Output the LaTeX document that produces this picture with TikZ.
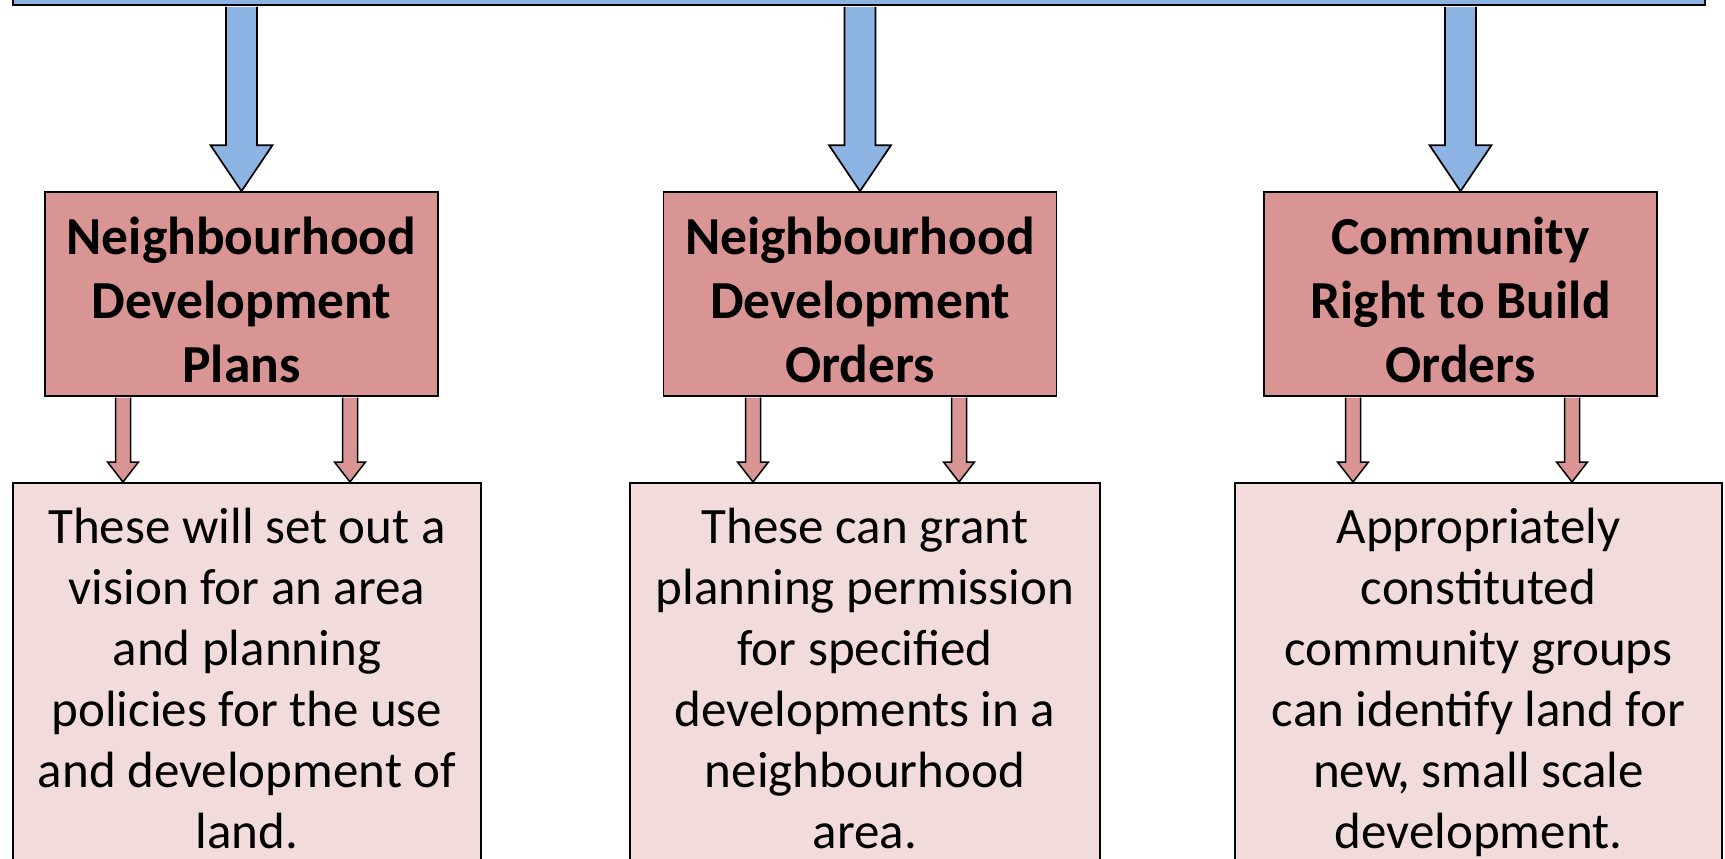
\documentclass[tikz,border=0pt]{standalone}
\usepackage{fontspec}
\setmainfont{Carlito}
\usetikzlibrary{calc}
\definecolor{barblue}{HTML}{8DB3E2}
\definecolor{boxred}{HTML}{D99594}
\definecolor{boxpink}{HTML}{F2DCDB}
\begin{document}
\begin{tikzpicture}[x=1pt,y=-1pt,
 redbox/.style={draw=black, line width=1.6pt, fill=boxred, minimum width=393pt, minimum height=204pt, inner sep=0pt, align=center, font=\fontsize{53.5}{64}\selectfont\bfseries},
 pinkbox/.style={draw=black, line width=1.6pt, fill=boxpink, minimum height=440pt, anchor=north, inner sep=0pt},
 bodytext/.style={anchor=north, inner sep=0pt, align=center, font=\fontsize{51}{61}\selectfont},
 bluearrow/.style={draw=black, line width=1.7pt, fill=barblue, line join=miter},
 redarrow/.style={draw=black, line width=1.5pt, fill=boxred, line join=miter},
]
\useasboundingbox (0,0) rectangle (1725,859);
\clip (0,0) rectangle (1725,859);
\fill[white] (0,0) rectangle (1725,859);

\node[draw=black, line width=1.7pt, fill=barblue, minimum width=1692pt, minimum height=80pt, anchor=south west, inner sep=0pt] (bar) at (12,6) {};

\node[redbox] (r1) at (241.5,294) {\rule{0pt}{50pt}Neighbourhood\\Development\\Plans};
\node[redbox] (r2) at (860,294) {\rule{0pt}{50pt}Neighbourhood\\Development\\Orders};
\node[redbox] (r3) at (1460.5,294) {\rule{0pt}{50pt}Community\\Right to Build\\Orders};

\node[pinkbox, minimum width=468pt] (d1) at (247,482) {};
\node[pinkbox, minimum width=470pt] (d2) at (865,482) {};
\node[pinkbox, minimum width=487pt] (d3) at (1478.5,482) {};

\node[bodytext] (t1) at ($(d1.north)+(0,20)$) {\rule{0pt}{41pt}These will set out a\\vision for an area\\and planning\\policies for the use\\and development of\\land.};
\node[bodytext] (t2) at ($(d2.north)+(0,20)$) {\rule{0pt}{41pt}These can grant\\planning permission\\for specified\\developments in a\\neighbourhood\\area.};
\node[bodytext] (t3) at ($(d3.north)+(0,20)$) {\rule{0pt}{41pt}Appropriately\\constituted\\community groups\\can identify land for\\new, small scale\\development.};

\foreach \b in {r1,r2,r3} {
 \draw[bluearrow] ($(bar.south -| \b.north)+(-15.5,0.85)$) -- ($(\b.north)+(-15.5,-46)$) -- ($(\b.north)+(-31,-46)$) -- (\b.north) -- ($(\b.north)+(31,-46)$) -- ($(\b.north)+(15.5,-46)$) -- ($(bar.south -| \b.north)+(15.5,0.85)$);
}

\foreach \x/\r/\d in {123/r1/d1, 350/r1/d1, 753/r2/d2, 959/r2/d2, 1353/r3/d3, 1572/r3/d3} {
 \coordinate (c) at (\x,0);
 \draw[redarrow] ($(\r.south -| c)+(-7.5,0.8)$) -- ($(\d.north -| c)+(-7.5,-20)$) -- ($(\d.north -| c)+(-15.5,-20)$) -- (\d.north -| c) -- ($(\d.north -| c)+(15.5,-20)$) -- ($(\d.north -| c)+(7.5,-20)$) -- ($(\r.south -| c)+(7.5,0.8)$);
}
\end{tikzpicture}
\end{document}
